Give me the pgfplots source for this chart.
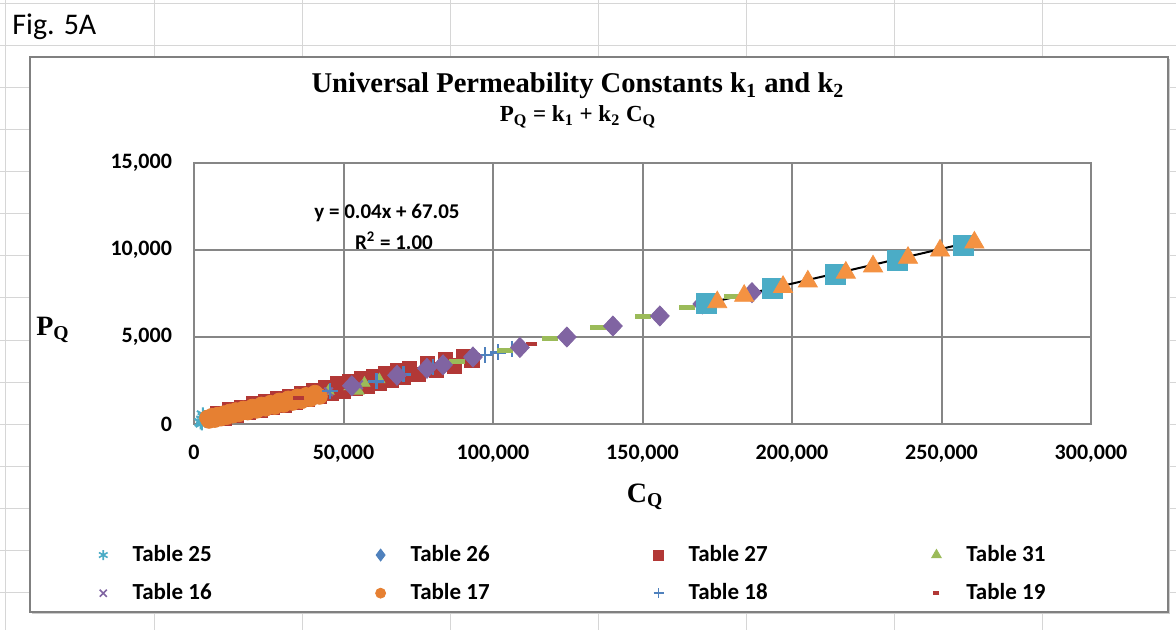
\documentclass[border=0pt]{standalone}
\usepackage{fontspec}
\setmainfont{Carlito}
\newfontfamily\tnr{Liberation Serif}
\usepackage{pgfplots}
\pgfplotsset{compat=1.18}
\definecolor{gridgray}{RGB}{134,134,134}
\definecolor{cellgray}{RGB}{214,214,214}
\definecolor{xlblue}{RGB}{79,129,189}
\definecolor{xlred}{RGB}{178,56,54}
\definecolor{xlgreen}{RGB}{155,187,89}
\definecolor{xlpurple}{RGB}{128,100,162}
\definecolor{xlaqua}{RGB}{75,172,198}
\definecolor{xlorange}{RGB}{244,146,66}
\definecolor{xlorangedk}{RGB}{230,128,50}
\begin{document}
\begin{tikzpicture}
\begin{scope}[x=0.5pt,y=-0.5pt]
\path[use as bounding box] (0,0) rectangle (1176,630);
\fill[white] (0,0) rectangle (1176,630);
\foreach \xx in {5,154,302,450,598,746,894,1042} \draw[cellgray,line width=0.5pt] (\xx,0)--(\xx,630);
\foreach \yy in {4,46,...,630} \draw[cellgray,line width=0.5pt] (0,\yy)--(1176,\yy);
\fill[black!20] (32,59) rectangle (1170,614);
\filldraw[fill=white,draw=gray,line width=1pt] (30,57) rectangle (1168,612);
\node[anchor=west,inner sep=0pt,font=\fontsize{15}{17}\selectfont] at (12,27) {Fig. 5A};
\node[font=\tnr\bfseries\fontsize{14.3}{16}\selectfont] at (578,86) {Universal Permeability Constants k\textsubscript{1} and k\textsubscript{2}};
\node[font=\tnr\bfseries\fontsize{11.5}{13}\selectfont] at (578,117) {P\textsubscript{Q} = k\textsubscript{1} + k\textsubscript{2} C\textsubscript{Q}};
\node[font=\tnr\bfseries\fontsize{14}{16}\selectfont] at (53,330) {P\textsubscript{Q}};
\node[font=\tnr\bfseries\fontsize{14}{16}\selectfont] at (645,497) {C\textsubscript{Q}};
\node[font=\bfseries\fontsize{10.5}{12}\selectfont] at (387,213) {y = 0.04x + 67.05};
\node[font=\bfseries\fontsize{10.5}{12}\selectfont] at (394,241) {R\textsuperscript{2} = 1.00};
\end{scope}
\begin{axis}[
  at={(97pt,-212pt)}, anchor=south west, scale only axis,
  width=448.5pt, height=130.5pt,
  xmin=0, xmax=300000, ymin=0, ymax=15000,
  xtick={0,50000,...,300000}, ytick={0,5000,10000,15000},
  scaled ticks=false,
  /pgf/number format/fixed,
  /pgf/number format/1000 sep={,},
  /pgf/number format/assume math mode=true,
  grid=major, major grid style={gridgray,line width=1pt},
  axis line style={gridgray,line width=1pt},
  major tick length=0pt,
  tick label style={font=\bfseries\fontsize{11}{13}\selectfont},
  xticklabel style={yshift=-7pt},
  yticklabel style={xshift=-7.5pt},
  clip=false,
  legend columns=4,
  legend cell align=left,
  legend style={draw=none, fill=none, at={(-0.1064,-0.4485)}, anchor=north west,
    font=\bfseries\fontsize{11.5}{13.5}\selectfont, row sep=5.5pt, inner sep=0pt},
]
\addlegendimage{only marks, mark=asterisk, xlaqua, mark size=2.5pt, line width=0.8pt}
\addlegendentry{\hspace*{10.5pt}\makebox[119.5pt][l]{Table 25}}
\addlegendimage{only marks, mark=diamond*, xlblue, mark size=3pt}
\addlegendentry{\hspace*{10.5pt}\makebox[119.5pt][l]{Table 26}}
\addlegendimage{only marks, mark=square*, xlred, mark size=2.5pt}
\addlegendentry{\hspace*{10.5pt}\makebox[119.5pt][l]{Table 27}}
\addlegendimage{only marks, mark=triangle*, xlgreen, mark size=2.8pt}
\addlegendentry{\hspace*{10.5pt}\makebox[50pt][l]{Table 31}}
\addlegendimage{only marks, mark=x, xlpurple, mark size=2.5pt, line width=0.8pt}
\addlegendentry{\hspace*{10.5pt}\makebox[119.5pt][l]{Table 16}}
\addlegendimage{only marks, mark=*, xlorangedk, mark size=2.5pt}
\addlegendentry{\hspace*{10.5pt}\makebox[119.5pt][l]{Table 17}}
\addlegendimage{only marks, mark=+, xlblue, mark size=2.5pt, line width=0.8pt}
\addlegendentry{\hspace*{10.5pt}\makebox[119.5pt][l]{Table 18}}
\addlegendimage{only marks, mark=-, xlred, mark size=1.5pt, line width=2pt}
\addlegendentry{\hspace*{10.5pt}\makebox[50pt][l]{Table 19}}

% Table 25
\addplot[only marks, mark=asterisk, xlaqua, mark size=3.5pt, line width=1pt, forget plot] coordinates {
(2200,100) (2800,250) (3300,400) (3800,180) (4200,320) (2600,30) (3000,550)};
% Table 26
\addplot[only marks, mark=diamond*, xlblue, mark size=3.5pt, forget plot] coordinates {
(28000,1200) (40000,1650) (50000,2100) (60000,2450)};
% Table 27
\addplot[only marks, mark=square*, xlred, mark size=3.6pt, forget plot] coordinates {
(8000,600) (10000,350) (12000,800) (14000,500) (16000,950) (18000,650) (20000,1150)
(22000,800) (24000,1300) (26000,950) (28000,1450) (30000,1100) (32000,1600) (34000,1250)
(36000,1750) (38000,1400) (40000,1900) (42000,1600) (44000,2100) (46000,1750) (48000,2300)
(50000,1900) (52000,2450) (54000,2050) (56000,2600) (58000,2200) (60000,2750) (62000,2350)
(64000,2900) (66000,2500) (68000,3050) (70000,2700) (72000,3200) (75000,2850) (78000,3450)
(81000,3100) (84000,3700) (87000,3350) (90000,3900) (93000,3650)};
% Table 31
\addplot[only marks, mark=triangle*, xlgreen, mark size=3.2pt, forget plot] coordinates {
(30000,1250) (38000,1550) (45000,1900) (52000,2150) (55000,1900) (57000,2350) (62000,2550)};
% Table 16
\addplot[only marks, mark=x, xlpurple, mark size=3pt, line width=1pt, forget plot] coordinates {
(25000,1050) (35000,1450) (45000,1850) (55000,2250)};
% Table 17
\addplot[only marks, mark=*, xlorangedk, mark size=3.9pt, forget plot] coordinates {
(4500,350) (5000,200) (6000,450) (7000,250) (8000,520) (9000,330) (10000,600) (11000,420)
(12000,700) (13000,500) (14000,780) (15000,580) (16500,870) (18000,680) (19500,980)
(21000,780) (22500,1100) (24000,900) (25500,1200) (27000,1000) (28500,1330) (30000,1120)
(31500,1450) (33000,1230) (34500,1560) (36000,1330) (37500,1650) (39000,1450) (40500,1780) (42000,1580)};
% Table 18
\addplot[only marks, mark=+, xlblue, mark size=4pt, line width=1.2pt, forget plot] coordinates {
(45500,1900) (53000,2200) (61000,2450) (70000,2850) (80000,3250) (97300,3950) (101700,4120) (106300,4320)};
% Table 19
\addplot[only marks, mark=-, xlred, mark size=2.8pt, line width=2pt, forget plot] coordinates {
(35000,1500) (50000,2100) (65000,2700) (80000,3300) (113000,4600)};
% unlabelled series: green dashes
\addplot[only marks, mark=-, xlgreen, mark size=4pt, line width=2.5pt, forget plot] coordinates {
(88000,3600) (104000,4250) (119000,4900) (135000,5550) (150000,6150) (165000,6720) (180000,7300)};
% purple diamonds
\addplot[only marks, mark=diamond*, xlpurple, mark size=5pt, forget plot, mark options={xscale=1.25}] coordinates {
(52800,2200) (67900,2800) (77900,3200) (83300,3400) (93300,3850) (109000,4400) (124700,5000)
(140100,5630) (155800,6210) (170000,6900) (186600,7550)};
% aqua squares
\addplot[only marks, mark=square*, xlaqua, mark size=5pt, forget plot] coordinates {
(171500,6930) (193300,7800) (214400,8600) (235400,9420) (257200,10290)};
% orange triangles
\addplot[only marks, mark=triangle*, xlorange, mark size=5.5pt, forget plot] coordinates {
(175000,7000) (184000,7370) (197000,7880) (205300,8190) (218000,8700) (227100,9060)
(238800,9550) (249500,9970) (261000,10430)};
% trendline
\addplot[black, line width=1pt, no marks, forget plot] coordinates {(175000,7067) (260000,10467)};
\end{axis}
\end{tikzpicture}
\end{document}
